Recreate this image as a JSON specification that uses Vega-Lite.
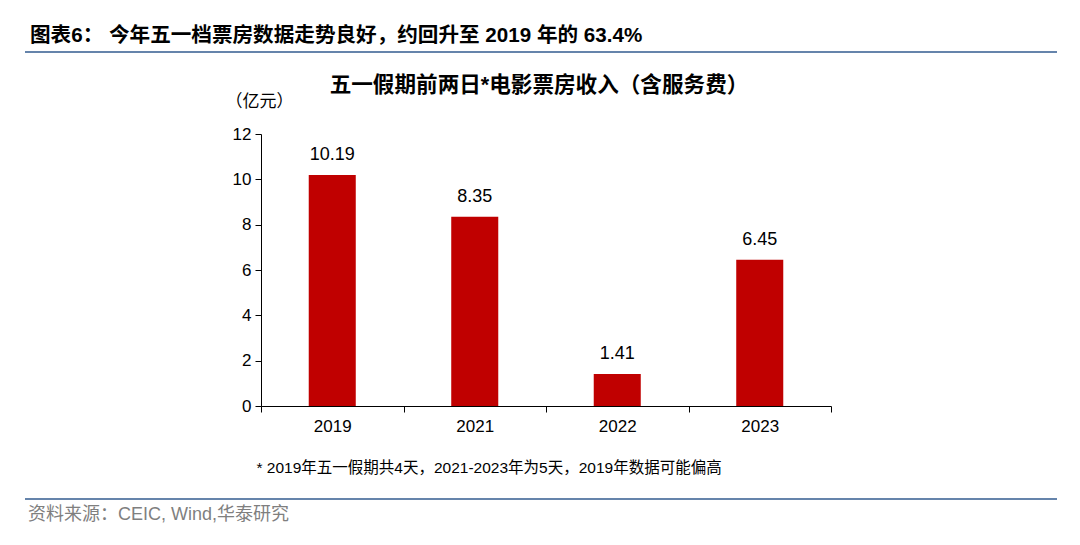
{
  "$schema": "https://vega.github.io/schema/vega-lite/v6.json",
  "padding": {"left": 25, "top": 26, "right": 0, "bottom": 0},
  "background": "white",
  "config": {"view": {"stroke": null}, "font": "Liberation Sans, Noto Sans CJK SC"},
  "spacing": 22,
  "vconcat": [
    {
      "width": 1032, "height": 2,
      "data": {"values": []},
      "mark": "point",
      "view": {"fill": "#6584ab", "stroke": null},
      "title": {"text": "图表6： 今年五一档票房数据走势良好，约回升至 2019 年的 63.4%", "anchor": "start", "frame": "group", "fontSize": 20.6, "fontWeight": "bold", "color": "#000000", "offset": 4, "dx": 5}
    },
    {
      "bounds": "flush",
      "spacing": 0,
      "hconcat": [
        {"width": 236, "height": 272, "data": {"values": []}, "mark": "point", "view": {"fill": "white", "stroke": null}},
        {
          "width": 570, "height": 272,
          "data": {"values": [
            {"year": "2019", "value": 10.19},
            {"year": "2021", "value": 8.35},
            {"year": "2022", "value": 1.41},
            {"year": "2023", "value": 6.45}
          ]},
          "title": {"text": "五一假期前两日*电影票房收入（含服务费）", "anchor": "middle", "frame": "group", "fontSize": 21.6, "fontWeight": "bold", "color": "#000000", "offset": -5, "dx": -7},
          "encoding": {
            "x": {"field": "year", "type": "nominal", "sort": null,
              "scale": {"paddingInner": 0, "paddingOuter": 0},
              "axis": {"title": "* 2019年五一假期共4天，2021-2023年为5天，2019年数据可能偏高", "titleX": -5, "titleY": 61, "titleAlign": "left", "titleBaseline": "middle", "titleFontSize": 15.5, "titleFontWeight": "normal", "titleColor": "#000000", "labelAngle": 0, "labelFontSize": 17, "labelColor": "#000000", "labelPadding": 6, "domainColor": "#000000", "tickColor": "#000000", "tickSize": 6, "tickBand": "extent", "grid": false}},
            "y": {"field": "value", "type": "quantitative", "scale": {"domain": [0, 12]},
              "axis": {"values": [0, 2, 4, 6, 8, 10, 12], "title": "（亿元）", "titleAngle": 0, "titleX": -2, "titleY": -33, "titleAlign": "center", "titleBaseline": "middle", "titleFontSize": 17, "titleFontWeight": "normal", "titleColor": "#000000", "labelFontSize": 17, "labelColor": "#000000", "labelPadding": 4, "tickSize": 6, "tickColor": "#000000", "domainColor": "#000000", "grid": false}}
          },
          "layer": [
            {"mark": {"type": "bar", "color": "#C00000", "width": {"band": 0.33}}},
            {"mark": {"type": "text", "baseline": "bottom", "dy": -11, "fontSize": 18, "color": "#000000"},
              "encoding": {"text": {"field": "value", "type": "quantitative", "format": ".2f"}}}
          ]
        }
      ]
    },
    {
      "width": 1032, "height": 2,
      "data": {"values": []},
      "mark": "point",
      "view": {"fill": "#6584ab", "stroke": null},
      "title": {"text": "资料来源：CEIC, Wind,华泰研究", "orient": "bottom", "anchor": "start", "frame": "group", "fontSize": 18, "fontWeight": "normal", "color": "#7f7f7f", "offset": 6, "dx": 3}
    }
  ]
}
